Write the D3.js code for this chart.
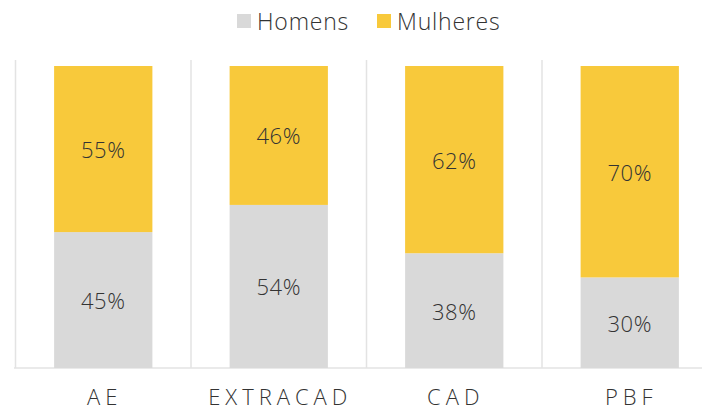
<!DOCTYPE html>
<html><head><meta charset="utf-8">
<script src="https://cdn.jsdelivr.net/npm/d3@7"></script>
<style>body{margin:0;background:#fff}svg{display:block}text{font-family:"Open Sans",sans-serif;font-weight:300;fill:#333}</style>
</head><body><svg id="c" width="702" height="411"></svg>
<script>
const categories = ["AE","EXTRACAD","CAD","PBF"];
const seriesNames = ["Homens","Mulheres"];
const homens = [45,54,38,30];
const mulheres = [55,46,62,70];
const colors = ["#d9d9d9","#f8c93b"];

const svg = d3.select("#c");
const x = d3.scaleBand().domain(categories).range([15.5,717.5]).paddingInner(0.44).paddingOuter(0.22);
const y = d3.scaleLinear().domain([0,100]).range([368,66]);

const data = categories.map((c,i)=>({cat:c,Homens:homens[i],Mulheres:mulheres[i]}));
const stacked = d3.stack().keys(seriesNames)(data);

// vertical separators
const step = x.step();
svg.append("g").selectAll("line").data(categories).join("line")
  .attr("x1",d=>x(d)-x.paddingOuter()*step).attr("x2",d=>x(d)-x.paddingOuter()*step)
  .attr("y1",60).attr("y2",368).attr("stroke","#e3e3e3").attr("stroke-width",1.5);
svg.append("line").attr("x1",14).attr("x2",702).attr("y1",368).attr("y2",368)
  .attr("stroke","#e3e3e3").attr("stroke-width",1.5);

const g = svg.append("g");
stacked.forEach((s,si)=>{
  g.append("g").selectAll("rect").data(s).join("rect")
    .attr("x",d=>x(d.data.cat)).attr("width",x.bandwidth())
    .attr("y",d=>y(d[1])).attr("height",d=>y(d[0])-y(d[1]))
    .attr("fill",colors[si]);
  g.append("g").selectAll("text").data(s).join("text")
    .attr("x",d=>x(d.data.cat)+x.bandwidth()/2)
    .attr("y",d=>(y(d[0])+y(d[1]))/2)
    .attr("text-anchor","middle").attr("dominant-baseline","central")
    .attr("font-size",22).attr("letter-spacing","0.5px")
    .text(d=>(d[1]-d[0])+"%");
});

// x axis labels
const xa = svg.append("g").attr("transform","translate(0,368)")
  .call(d3.axisBottom(x).tickSize(0).tickPadding(21));
xa.select(".domain").remove();
xa.selectAll("text").attr("font-size",22).attr("letter-spacing","5px").attr("dx","1.5px")
  .style("font-family","'Open Sans',sans-serif").style("font-weight",300).attr("fill","#333");

// legend
const legend = svg.append("g");
const lx = [237,377];
seriesNames.forEach((n,i)=>{
  legend.append("rect").attr("x",lx[i]).attr("y",14).attr("width",14).attr("height",14).attr("fill",colors[i]);
  legend.append("text").attr("x",lx[i]+20).attr("y",21).attr("dominant-baseline","central")
    .attr("font-size",23).attr("letter-spacing","0.8px").text(n);
});
</script></body></html>
